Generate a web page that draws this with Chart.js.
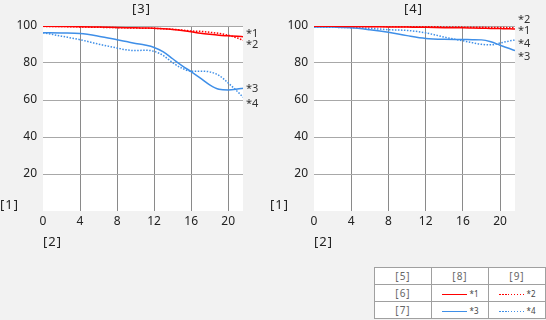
<!DOCTYPE html>
<html>
<head>
<meta charset="utf-8">
<script src="https://cdn.jsdelivr.net/npm/chart.js@4"></script>
<style>
  html, body { margin: 0; padding: 0; background: #f2f2f2; }
  body { width: 546px; height: 320px; position: relative; overflow: hidden; font-family: "Noto Sans", sans-serif; color: #222; }
  .box { position: absolute; top: 0; width: 273px; height: 260px; }
  .txt { position: absolute; font-size: 13px; line-height: 14px; letter-spacing: 1px; white-space: nowrap; }
  table { position: absolute; left: 374px; top: 267px; border-collapse: collapse; background: #fff; }
  td { border: 1px solid #a0a0a0; width: 56px; height: 16px; padding: 0; text-align: center; font-size: 10px; color: #666; letter-spacing: 1px; }
  .key { display: inline-block; width: 25px; height: 1.5px; vertical-align: middle; margin-right: 3px; }
  .key + span { font-size: 8px; color: #444; letter-spacing: 0; }
  .dot-red { background: repeating-linear-gradient(to right, #f00 0 1.5px, transparent 1.5px 3px); }
  .dot-blue { background: repeating-linear-gradient(to right, #3f8fe8 0 1.5px, transparent 1.5px 3px); }
</style>
</head>
<body>
<div class="box" style="left:0"><canvas id="left" width="273" height="260"></canvas></div>
<div class="box" style="left:273px"><canvas id="right" width="273" height="260"></canvas></div>

<div class="txt" style="left:132px; top:1px">[3]</div>
<div class="txt" style="left:404px; top:1px">[4]</div>
<div class="txt" style="left:0px; top:197px">[1]</div>
<div class="txt" style="left:270px; top:197px">[1]</div>
<div class="txt" style="left:43px; top:234px">[2]</div>
<div class="txt" style="left:314px; top:234px">[2]</div>

<table>
  <tr><td>[5]</td><td>[8]</td><td>[9]</td></tr>
  <tr><td>[6]</td>
      <td><span class="key" style="background:#f00"></span><span>*1</span></td>
      <td><span class="key dot-red"></span><span>*2</span></td></tr>
  <tr><td>[7]</td>
      <td><span class="key" style="background:#3f8fe8"></span><span>*3</span></td>
      <td><span class="key dot-blue"></span><span>*4</span></td></tr>
</table>

<script>
// values
const leftX  = [0, 2, 4, 6, 8, 9, 10, 11, 12, 13, 14, 15, 16, 17, 18, 19, 20, 21, 21.6];
const left1  = [99.8, 99.7, 99.6, 99.4, 99.2, 99.1, 99.0, 98.9, 98.8, 98.5, 98.1, 97.6, 96.9, 96.1, 95.5, 95.0, 94.7, 94.4, 94.2];
const left2  = [99.8, 99.7, 99.5, 99.3, 99.1, 99.0, 98.9, 98.8, 98.7, 98.5, 98.2, 97.8, 97.3, 97.1, 96.6, 96.0, 95.0, 93.5, 92.3];
const left3  = [96.4, 96.2, 95.9, 94.5, 92.6, 91.6, 90.6, 89.7, 88.4, 86.0, 82.3, 78.6, 75.3, 71.8, 68.2, 65.8, 65.4, 65.9, 66.4];
const left4  = [96.4, 94.5, 92.6, 90.2, 88.1, 87.1, 86.7, 86.9, 86.3, 84.0, 80.2, 77.2, 75.6, 75.6, 75.2, 73.3, 69.2, 64.6, 61.5];

const rightX = [0, 2, 4, 6, 8, 10, 12, 14, 16, 17, 18, 19, 20, 21, 21.6];
const right1 = [99.8, 99.8, 99.7, 99.6, 99.5, 99.4, 99.3, 99.1, 99.0, 98.9, 98.8, 98.7, 98.6, 98.5, 98.4];
const right2 = [99.8, 99.8, 99.8, 99.7, 99.7, 99.6, 99.6, 99.5, 99.4, 99.3, 99.3, 99.2, 99.2, 99.1, 99.1];
const right3 = [99.5, 99.4, 99.1, 98.0, 96.6, 94.8, 93.3, 92.8, 92.7, 92.6, 92.5, 91.5, 89.6, 87.8, 86.7];
const right4 = [99.5, 99.3, 99.1, 98.7, 98.0, 97.6, 96.3, 94.0, 92.0, 91.0, 90.1, 89.8, 90.8, 91.9, 92.4];

const seriesNames = ['*1', '*2', '*3', '*4'];
// where the end labels sit, in y units (same order as seriesNames)
const leftLabelAt  = [96, 90, 66, 57.8];
const rightLabelAt = [97.3, 103.5, 83.2, 90.3];
const xMax = 21.6;

const RED = '#ff0000', BLUE = '#3f8fe8';
const FONT = '"Noto Sans", sans-serif';

const plotBg = {
    id: 'plotBg',
    beforeDraw(chart) {
        const { ctx, chartArea: a } = chart;
        ctx.save();
        ctx.fillStyle = '#fff';
        ctx.fillRect(a.left, a.top, a.width, a.height);
        ctx.restore();
    }
};
const endLabels = {
    id: 'endLabels',
    afterDraw(chart, args, opts) {
        const { ctx, chartArea: a, scales } = chart;
        ctx.save();
        ctx.font = '11px ' + FONT;
        ctx.fillStyle = '#333';
        ctx.textBaseline = 'middle';
        seriesNames.forEach((n, i) => ctx.fillText(n, a.right + 3, scales.y.getPixelForValue(opts.at[i])));
        ctx.restore();
    }
};

function pts(xs, ys) {
    return xs.map((x, i) => ({ x: x, y: ys[i] }));
}
function ds(xs, ys, color, dotted) {
    return {
        data: pts(xs, ys),
        borderColor: color,
        borderWidth: 1.5,
        borderDash: dotted ? [1.5, 1.5] : [],
        pointRadius: 0,
        cubicInterpolationMode: 'monotone',
        fill: false
    };
}

function makeChart(id, xs, s, labelAt, yWidth, padRight) {
    return new Chart(document.getElementById(id), {
        type: 'line',
        data: {
            datasets: [
                ds(xs, s[0], RED, false),
                ds(xs, s[1], RED, true),
                ds(xs, s[2], BLUE, false),
                ds(xs, s[3], BLUE, true)
            ]
        },
        options: {
            responsive: false,
            animation: false,
            layout: { padding: { top: 26, right: padRight, left: 0, bottom: 0 } },
            plugins: {
                legend: { display: false },
                tooltip: { enabled: false },
                endLabels: { at: labelAt }
            },
            scales: {
                x: {
                    type: 'linear',
                    min: 0,
                    max: xMax,
                    border: { display: false },
                    grid: {
                        drawTicks: false,
                        color: (c) => c.tick && c.tick.value === 0 ? 'rgba(0,0,0,0)' : '#8a8a8a'
                    },
                    ticks: { stepSize: 4, includeBounds: false, padding: 3, color: '#222', font: { family: FONT, size: 12 } },
                    afterFit: (sc) => { sc.height = 49; }
                },
                y: {
                    min: 0,
                    max: 100,
                    border: { display: false },
                    grid: {
                        drawTicks: false,
                        color: (c) => c.tick && c.tick.value === 0 ? 'rgba(0,0,0,0)' : '#a8a8a8'
                    },
                    ticks: {
                        stepSize: 20,
                        padding: 6,
                        color: '#222',
                        font: { family: FONT, size: 12 },
                        callback: (v) => v === 0 ? '' : v
                    },
                    afterFit: (sc) => { sc.width = yWidth; }
                }
            }
        },
        plugins: [plotBg, endLabels]
    });
}

makeChart('left', leftX, [left1, left2, left3, left4], leftLabelAt, 43, 30);
makeChart('right', rightX, [right1, right2, right3, right4], rightLabelAt, 41, 31);
</script>
</body>
</html>
